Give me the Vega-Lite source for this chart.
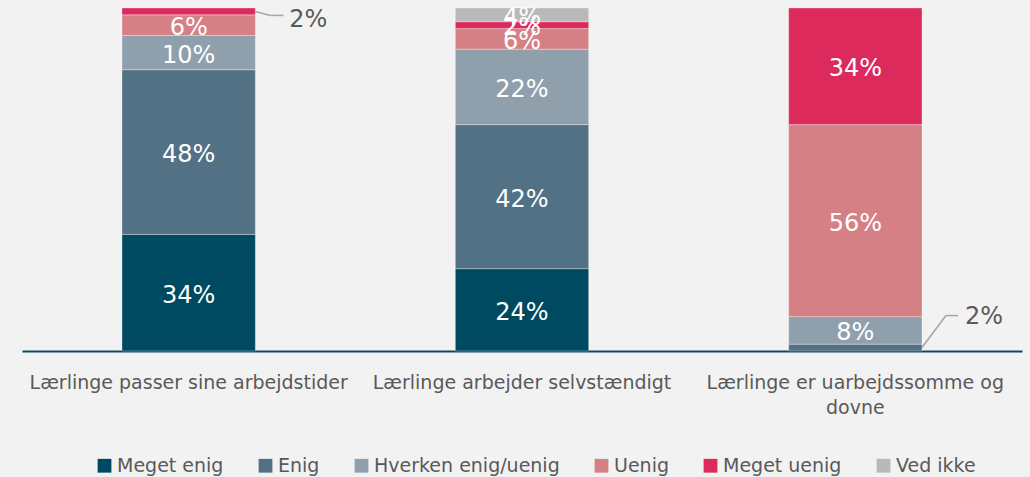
{
  "$schema": "https://vega.github.io/schema/vega-lite/v6.json",
  "width": 1000,
  "height": 343,
  "autosize": {"type": "none"},
  "padding": {"left": 22, "top": 8, "right": 8, "bottom": 126},
  "background": "#f2f2f2",
  "config": {
    "view": {"stroke": null},
    "font": "DejaVu Sans"
  },
  "data": {
    "values": [
      {"q": "Lærlinge passer sine arbejdstider", "cat": "Meget enig", "k": 1, "value": 34, "out": false},
      {"q": "Lærlinge passer sine arbejdstider", "cat": "Enig", "k": 2, "value": 48, "out": false},
      {"q": "Lærlinge passer sine arbejdstider", "cat": "Hverken enig/uenig", "k": 3, "value": 10, "out": false},
      {"q": "Lærlinge passer sine arbejdstider", "cat": "Uenig", "k": 4, "value": 6, "out": false},
      {"q": "Lærlinge passer sine arbejdstider", "cat": "Meget uenig", "k": 5, "value": 2, "out": true},
      {"q": "Lærlinge arbejder selvstændigt", "cat": "Meget enig", "k": 1, "value": 24, "out": false},
      {"q": "Lærlinge arbejder selvstændigt", "cat": "Enig", "k": 2, "value": 42, "out": false},
      {"q": "Lærlinge arbejder selvstændigt", "cat": "Hverken enig/uenig", "k": 3, "value": 22, "out": false},
      {"q": "Lærlinge arbejder selvstændigt", "cat": "Uenig", "k": 4, "value": 6, "out": false},
      {"q": "Lærlinge arbejder selvstændigt", "cat": "Meget uenig", "k": 5, "value": 2, "out": false},
      {"q": "Lærlinge arbejder selvstændigt", "cat": "Ved ikke", "k": 6, "value": 4, "out": false},
      {"q": "Lærlinge er uarbejdssomme og dovne", "cat": "Enig", "k": 2, "value": 2, "out": true},
      {"q": "Lærlinge er uarbejdssomme og dovne", "cat": "Hverken enig/uenig", "k": 3, "value": 8, "out": false},
      {"q": "Lærlinge er uarbejdssomme og dovne", "cat": "Uenig", "k": 4, "value": 56, "out": false},
      {"q": "Lærlinge er uarbejdssomme og dovne", "cat": "Meget uenig", "k": 5, "value": 34, "out": false}
    ]
  },
  "transform": [
    {"stack": "value", "groupby": ["q"], "sort": [{"field": "k", "order": "ascending"}], "as": ["v0", "v1"]},
    {"calculate": "(datum.v0 + datum.v1) / 2", "as": "mid"},
    {"calculate": "datum.value + '%'", "as": "label"}
  ],
  "encoding": {
    "x": {
      "field": "q",
      "type": "nominal",
      "scale": {
        "domain": ["Lærlinge passer sine arbejdstider", "Lærlinge arbejder selvstændigt", "Lærlinge er uarbejdssomme og dovne"],
        "paddingInner": 0.6,
        "paddingOuter": 0.3
      },
      "axis": {
        "title": null,
        "labelAngle": 0,
        "ticks": false,
        "tickSize": 0,
        "domainColor": "#0b4b60",
        "domainWidth": 2,
        "labelFontSize": 19,
        "labelColor": "#595959",
        "labelPadding": 22,
        "labelLineHeight": 25,
        "labelLimit": 0,
        "labelExpr": "datum.value == 'Lærlinge er uarbejdssomme og dovne' ? ['Lærlinge er uarbejdssomme og', 'dovne'] : datum.value"
      }
    }
  },
  "layer": [
    {
      "mark": {"type": "bar", "stroke": "#ffffff", "strokeWidth": 0.6, "strokeOpacity": 0.5},
      "encoding": {
        "y": {"field": "v0", "type": "quantitative", "scale": {"domain": [0, 100], "nice": false, "zero": true}, "axis": null},
        "y2": {"field": "v1"},
        "color": {
          "field": "cat",
          "type": "nominal",
          "scale": {
            "domain": ["Meget enig", "Enig", "Hverken enig/uenig", "Uenig", "Meget uenig", "Ved ikke"],
            "range": ["#004a61", "#537184", "#8fa0ac", "#d58084", "#dc2a5c", "#b9b9b9"]
          },
          "legend": {
            "title": null,
            "orient": "none",
            "direction": "horizontal",
            "legendX": 73,
            "legendY": 448,
            "symbolType": "square",
            "symbolSize": 190,
            "symbolStrokeWidth": 0,
            "symbolOpacity": 1,
            "labelFontSize": 19,
            "labelColor": "#595959",
            "labelOffset": 3,
            "labelLimit": 0,
            "columnPadding": 32
          }
        }
      }
    },
    {
      "transform": [{"filter": "!datum.out"}],
      "mark": {"type": "text", "color": "#ffffff", "fontSize": 24, "baseline": "middle", "dy": 3},
      "encoding": {
        "y": {"field": "mid", "type": "quantitative"},
        "text": {"field": "label"}
      }
    },
    {
      "transform": [{"filter": "datum.out && datum.k == 5"}],
      "mark": {"type": "rule", "color": "#a6a6a6", "strokeWidth": 1.5, "x2Offset": 15, "y2Offset": 4},
      "encoding": {
        "x": {"field": "q", "type": "nominal", "bandPosition": 1},
        "x2": {"field": "q", "bandPosition": 1},
        "y": {"field": "mid", "type": "quantitative"},
        "y2": {"field": "mid"}
      }
    },
    {
      "transform": [{"filter": "datum.out && datum.k == 5"}],
      "mark": {"type": "rule", "color": "#a6a6a6", "strokeWidth": 1.5, "xOffset": 15, "x2Offset": 28, "yOffset": 4, "y2Offset": 4},
      "encoding": {
        "x": {"field": "q", "type": "nominal", "bandPosition": 1},
        "x2": {"field": "q", "bandPosition": 1},
        "y": {"field": "mid", "type": "quantitative"},
        "y2": {"field": "mid"}
      }
    },
    {
      "transform": [{"filter": "datum.out && datum.k == 5"}],
      "mark": {"type": "text", "color": "#595959", "fontSize": 24, "align": "left", "baseline": "middle", "dx": 34, "dy": 9},
      "encoding": {
        "x": {"field": "q", "type": "nominal", "bandPosition": 1},
        "y": {"field": "mid", "type": "quantitative"},
        "text": {"field": "label"}
      }
    },
    {
      "transform": [{"filter": "datum.out && datum.k == 2"}],
      "mark": {"type": "rule", "color": "#a6a6a6", "strokeWidth": 1.5, "x2Offset": 24, "y2Offset": -32},
      "encoding": {
        "x": {"field": "q", "type": "nominal", "bandPosition": 1},
        "x2": {"field": "q", "bandPosition": 1},
        "y": {"field": "mid", "type": "quantitative"},
        "y2": {"field": "mid"}
      }
    },
    {
      "transform": [{"filter": "datum.out && datum.k == 2"}],
      "mark": {"type": "rule", "color": "#a6a6a6", "strokeWidth": 1.5, "xOffset": 24, "x2Offset": 36, "yOffset": -32, "y2Offset": -32},
      "encoding": {
        "x": {"field": "q", "type": "nominal", "bandPosition": 1},
        "x2": {"field": "q", "bandPosition": 1},
        "y": {"field": "mid", "type": "quantitative"},
        "y2": {"field": "mid"}
      }
    },
    {
      "transform": [{"filter": "datum.out && datum.k == 2"}],
      "mark": {"type": "text", "color": "#595959", "fontSize": 24, "align": "left", "baseline": "middle", "dx": 43, "dy": -31},
      "encoding": {
        "x": {"field": "q", "type": "nominal", "bandPosition": 1},
        "y": {"field": "mid", "type": "quantitative"},
        "text": {"field": "label"}
      }
    }
  ]
}
